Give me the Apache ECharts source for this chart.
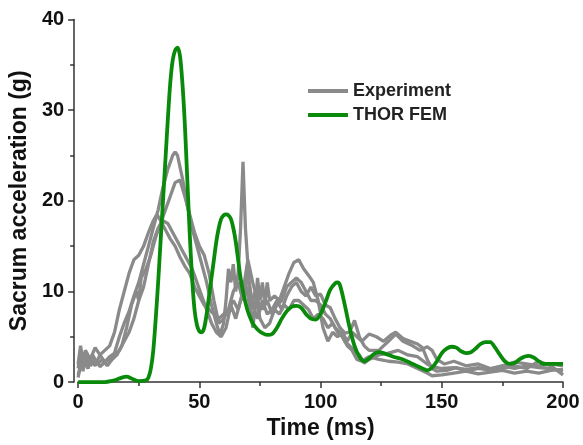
<!DOCTYPE html>
<html><head><meta charset="utf-8">
<script src="https://cdn.jsdelivr.net/npm/echarts@6/dist/echarts.min.js"></script>
<style>html,body{margin:0;padding:0;background:#fff}#c{width:583px;height:445px}</style>
</head><body><div id="c"></div>
<script>
const xTicks = [0, 50, 100, 150, 200];
const yTicks = [0, 10, 20, 30, 40];
const xTitle = 'Time (ms)';
const yTitle = 'Sacrum acceleration (g)';
const expA = [[0,1.5],[1,3.5],[2,1.2],[3,3],[4,1.5],[5,2.5],[7,1.8],[9,3],[11,2.2],[13,2.8],[15,3.2],[17,5],[19,6.5],[21,7.8],[23,9.5],[25,11],[27,13],[29,15],[31,17],[33,19],[35,21.5],[37,23.5],[39,25],[40,25.4],[41,25],[43,22.5],[45,19.5],[47,17],[49,15],[51,13],[53,11],[55,8.5],[57,6.5],[58.5,5.2],[60,6.5],[61,9],[62,12.5],[63,11],[64,13],[65,10],[66,12],[67,17],[68,24.3],[69,17],[70,13],[71,9],[72,6],[73,8],[74,11.5],[75,9],[76,11],[77,8.5],[78,11],[79,9],[81,9.5],[83,9],[85,10.5],[87,12],[89,13.2],[91,13.5],[93,12.5],[95,11.8],[97,11],[99,9],[101,6],[103,4.5],[105,5.5],[107,5],[109,5.5],[111,4.5],[113,5.5],[115,5],[117,4.5],[120,5.3],[123,5],[126,4.5],[129,5.2],[131,5.5],[134,4.8],[137,4.5],[140,4.2],[142,3.8],[144,2.5],[146,1.5],[148,1.2],[152,1.3],[156,1.6],[160,1.2],[165,1.5],[170,1.4],[175,1.8],[180,1.5],[185,1.8],[190,1.6],[195,1.5],[200,1.2]];
const expB = [[0,0.8],[2,2.5],[4,1.5],[6,3],[8,2],[10,2.5],[12,1.8],[14,2.5],[16,3],[18,4],[20,6],[22,8.5],[24,10],[25,9],[26,11.5],[28,12.5],[30,14],[32,16],[34,17.5],[36,19],[38,20.5],[40,22],[42,22.3],[44,20.5],[46,18.5],[48,16.5],[50,15],[52,14],[54,12],[56,9],[58,6.5],[60,7],[62,8],[64,10],[66,11],[68,9],[70,12],[72,8.5],[74,7],[76,9],[78,7.5],[80,8],[82,9],[84,8],[86,9.5],[88,10.5],[90,11],[92,10],[94,9.5],[96,10.5],[98,9.5],[100,9.7],[102,8.5],[104,8.2],[106,7],[108,6],[110,5.4],[112,5.5],[114,6.8],[116,5],[118,4],[120,3.5],[124,3.5],[128,4.5],[131,5.3],[134,4.5],[138,4],[141,3.5],[144,3.9],[146,3.5],[148,2.5],[151,2],[155,2.3],[160,1.8],[165,2],[170,1.5],[175,1.8],[180,2.2],[185,2],[190,1.8],[195,2],[200,1.8]];
const expC = [[0,2],[1,4],[2,2.2],[3,3.5],[5,2.5],[7,3.8],[9,3],[11,3.5],[13,4],[15,5.5],[17,8],[19,10],[21,12],[23,13.5],[25,14],[27,15],[29,16.5],[31,17.8],[32.5,18.5],[34,17.8],[36,16.8],[38,15.8],[40,15],[42,13.8],[44,12.8],[46,12],[48,10.5],[50,9.5],[52,8.5],[54,8],[56,7.5],[58,7],[60,7.5],[62,8],[64,9],[66,8],[68,10],[70,13.5],[72,11],[74,9],[76,8],[78,9],[80,7.5],[82,8.5],[84,9],[86,10.5],[88,11],[90,11.5],[92,11],[94,10],[96,9],[98,9],[100,8.5],[102,7.5],[104,7],[106,6],[108,5.5],[110,4.5],[112,4],[114,3.5],[116,3],[118,2.1],[120,2.5],[124,3],[128,3.2],[132,3.5],[136,3],[140,2.8],[144,2],[146,1.7],[150,1.5],[155,1.6],[160,1.4],[165,1.6],[170,1.3],[175,1.5],[180,1.8],[185,1.5],[190,2.3],[195,1.8],[200,0.8]];
const expD = [[0,0.5],[1,2],[2,1.5],[3,2.8],[5,1.8],[7,2.5],[9,1.7],[11,2.2],[13,2.5],[15,3],[17,3.5],[19,4.5],[21,5.5],[23,7],[25,9],[27,10.5],[29,13],[31,15.5],[33,17],[35,17.8],[37,17.5],[39,16.5],[41,15.5],[43,14.5],[45,13.5],[47,12.5],[49,11],[51,9.5],[53,8],[55,6.5],[57,5.5],[59,5],[61,6],[63,8.5],[65,7],[67,9],[69,11],[71,8],[73,10],[75,7],[77,6],[79,6.5],[81,8],[83,7.5],[85,8.5],[87,8],[89,9],[91,9],[93,8.5],[95,8],[97,7],[99,7.5],[101,7],[103,6],[105,6.5],[107,5.5],[109,5],[111,4],[113,3.5],[115,2.5],[117,2.3],[120,2.8],[124,2.5],[128,2.3],[132,2.2],[136,2],[140,1.5],[144,1],[146,0.7],[150,0.8],[155,1],[160,1.2],[165,0.9],[170,1.1],[175,1.3],[180,1],[185,1.2],[190,1],[195,1.3],[200,1.4]];
const thorFem = [[0,0],[5,0],[10,0],[15,0.2],[18,0.5],[20,0.6],[22,0.4],[25,0.1],[28,0.2],[29,0.5],[30,1.5],[31,3.5],[32,7],[33,11],[34,15.5],[35,20],[36,24.5],[37,29],[38,33],[39,35.5],[40,36.6],[41,36.9],[42,36],[43,33],[44,28.5],[45,22.5],[46,16.5],[47,11.5],[48,8],[49,6.3],[50,5.6],[51,5.5],[52,6],[53,7.5],[54,9.5],[55,11.5],[56,13.5],[57,15.5],[58,17],[59,18],[60,18.4],[61,18.5],[62,18.4],[63,18],[64,17],[65,15.5],[66,13.5],[67,11.5],[68,10],[69,8.8],[70,7.8],[72,6.5],[74,5.8],[76,5.4],[78,5.2],[80,5.3],[82,6],[84,7],[86,7.8],[88,8.3],[90,8.4],[92,8.2],[94,7.5],[96,7],[98,6.9],[100,7.5],[102,8.8],[104,10.2],[106,10.9],[107,11],[108,10.7],[110,8.5],[112,6],[114,4],[116,2.8],[118,2.3],[120,2.6],[122,3.1],[124,3.3],[126,3.2],[130,2.8],[134,2.5],[138,2],[142,1.5],[144,1.3],[146,1.6],[148,2.3],[150,3.2],[152,3.7],[154,3.9],[156,3.8],[158,3.4],[160,3.2],[162,3.3],[164,3.7],[166,4.2],[168,4.4],[170,4.4],[172,3.8],[174,3],[176,2.3],[178,2.0],[180,2.1],[182,2.5],[184,2.8],[186,2.9],[188,2.7],[190,2.3],[192,2.0],[196,2],[200,2]];

const FONT = '"Liberation Sans", Arial, sans-serif';
const GRAY = '#8a8a8a', GREEN = '#0a8a0a';
const chart = echarts.init(document.getElementById('c'), null, {renderer: 'canvas'});
const grayS = (d) => ({type: 'line', name: 'Experiment', data: d, symbol: 'none', lineStyle: {color: GRAY, width: 3.3}, itemStyle: {color: GRAY}, z: 2, animation: false});
chart.setOption({
  animation: false,
  textStyle: {fontFamily: FONT},
  grid: {left: 76, right: 20, top: 19.5, bottom: 55.5, containLabel: false},
  legend: {
    left: 308, top: 82, padding: 0, orient: 'vertical', itemWidth: 40, itemHeight: 4, itemGap: 6, icon: 'rect',
    textStyle: {fontFamily: FONT, fontSize: 18, fontWeight: 'bold', color: '#222'},
    data: [{name: 'Experiment', itemStyle: {color: GRAY}}, {name: 'THOR FEM', itemStyle: {color: GREEN}}]
  },
  xAxis: {
    type: 'value', min: xTicks[0], max: xTicks[xTicks.length - 1], interval: 50,
    name: xTitle, nameLocation: 'middle', nameGap: 30,
    nameTextStyle: {fontFamily: FONT, fontSize: 23, fontWeight: 'bold', color: '#111'},
    axisLine: {show: true, onZero: false, lineStyle: {color: '#333', width: 1.5}},
    axisTick: {show: true, inside: false, length: 6, lineStyle: {color: '#333', width: 1.5}},
    minorTick: {show: true, splitNumber: 2, length: 4, lineStyle: {color: '#333', width: 1.5}},
    axisLabel: {fontFamily: FONT, fontSize: 20, fontWeight: 'bold', color: '#111', margin: 10},
    splitLine: {show: false}
  },
  yAxis: {
    type: 'value', min: yTicks[0], max: yTicks[yTicks.length - 1], interval: 10, offset: 4,
    name: yTitle, nameLocation: 'middle', nameGap: 38, nameRotate: 90,
    nameTextStyle: {fontFamily: FONT, fontSize: 23, fontWeight: 'bold', color: '#111'},
    axisLine: {show: true, onZero: false, lineStyle: {color: '#333', width: 1.5}},
    axisTick: {show: true, inside: false, length: 6, lineStyle: {color: '#333', width: 1.5}},
    minorTick: {show: true, splitNumber: 2, length: 4, lineStyle: {color: '#333', width: 1.5}},
    axisLabel: {fontFamily: FONT, fontSize: 20, fontWeight: 'bold', color: '#111', margin: 10},
    splitLine: {show: false}
  },
  series: [grayS(expA), grayS(expB), grayS(expC), grayS(expD),
    {type: 'line', name: 'THOR FEM', data: thorFem, symbol: 'none', smooth: 0.3,
     lineStyle: {color: GREEN, width: 3.8}, itemStyle: {color: GREEN}, z: 3, animation: false}]
});
</script></body></html>
